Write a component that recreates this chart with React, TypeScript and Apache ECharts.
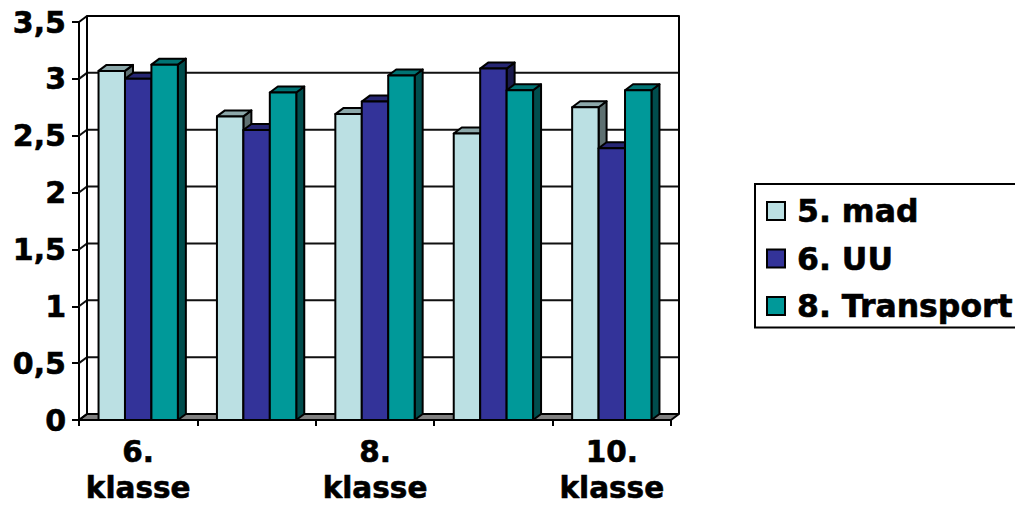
import React, { useEffect, useRef } from "react";
import * as echarts from "echarts";

const categories = ["6.\nklasse", "7.\nklasse", "8.\nklasse", "9.\nklasse", "10.\nklasse"];
const mad = [3.07, 2.67, 2.69, 2.52, 2.75];
const uu = [3.0, 2.55, 2.8, 3.09, 2.39];
const transport = [3.125, 2.88, 3.03, 2.9, 2.9];
const yTicks = [0, 0.5, 1, 1.5, 2, 2.5, 3, 3.5];

const seriesNames = ["5. mad", "6. UU", "8. Transport"];
const faceColors = ["#BBE0E3", "#333399", "#009999"];
const topColors = ["#8CA8AA", "#262673", "#007373"];
const sideColors = ["#5E7071", "#1A1A4D", "#004D4D"];

const FONT = '"DejaVu Sans", Verdana, sans-serif';
const DX = 8;
const DY = -6;
const LINE = { stroke: "#000", lineWidth: 2, lineJoin: "round" as const };

function wallItem(params: any, api: any) {
  const v = api.value(1);
  const band = api.size([1, 0])[0];
  const p = api.coord([0, v]);
  const left = p[0] - band / 2;
  const right = left + band * categories.length;
  const y = p[1];
  const zero = api.coord([0, 0])[1];
  const top = api.coord([0, yTicks[yTicks.length - 1]])[1];
  const children: any[] = [];
  if (v === 0) {
    children.push({
      type: "polygon",
      shape: { points: [[left, y], [left + DX, y + DY], [right + DX, y + DY], [right, y]] },
      style: { fill: "#808080", ...LINE },
    });
  }
  if (v === yTicks[yTicks.length - 1]) {
    children.push({
      type: "polyline",
      shape: { points: [[left, zero], [left + DX, zero + DY], [left + DX, top + DY], [right + DX, top + DY], [right + DX, zero + DY]] },
      style: { fill: "none", ...LINE },
    });
    children.push({
      type: "polyline",
      shape: { points: [[left + DX, top + DY], [left, top]] },
      style: { fill: "none", ...LINE },
    });
  }
  if (v !== 0 && v !== yTicks[yTicks.length - 1]) {
    children.push({
      type: "polyline",
      shape: { points: [[left, y], [left + DX, y + DY], [right + DX, y + DY]] },
      style: { fill: "none", stroke: "#111", lineWidth: 2 },
    });
  }
  return { type: "group", children };
}

function barItem(idx: number) {
  return (params: any, api: any) => {
    const band = api.size([1, 0])[0];
    const w = band * 0.2233;
    const c = api.coord([api.value(0), api.value(1)]);
    const base = api.coord([api.value(0), 0])[1];
    const x0 = c[0] - 1.5 * w + idx * w;
    const x1 = x0 + w;
    const y = c[1];
    return {
      type: "group",
      children: [
        {
          type: "polygon",
          shape: { points: [[x1, y], [x1 + DX, y + DY], [x1 + DX, base + DY], [x1, base]] },
          style: { fill: sideColors[idx], ...LINE },
        },
        {
          type: "polygon",
          shape: { points: [[x0, y], [x0 + DX, y + DY], [x1 + DX, y + DY], [x1, y]] },
          style: { fill: topColors[idx], ...LINE },
        },
        {
          type: "rect",
          shape: { x: x0, y, width: w, height: base - y },
          style: { fill: faceColors[idx], ...LINE },
        },
      ],
    };
  };
}

export default function App() {
  const ref = useRef<HTMLDivElement>(null);
  useEffect(() => {
    document.body.style.margin = "0";
    document.body.style.overflow = "hidden";
    const chart = echarts.init(ref.current!, undefined, { renderer: "svg" });
    const values = [mad, uu, transport];
    chart.setOption({
      animation: false,
      backgroundColor: "#fff",
      grid: { left: 79, right: 344, top: 22, bottom: 86, outerBoundsMode: "none" },
      xAxis: {
        type: "category",
        data: categories,
        axisLine: { show: true, lineStyle: { color: "#000", width: 2 } },
        axisTick: { show: true, interval: 0, alignWithLabel: false, length: 6, lineStyle: { color: "#000", width: 2 } },
        axisLabel: {
          interval: 1,
          margin: 14,
          color: "#000",
          fontFamily: FONT,
          fontWeight: "bold",
          fontSize: 29.5,
          lineHeight: 36,
          textBorderColor: "#000",
          textBorderWidth: 0.6,
        },
      },
      yAxis: {
        type: "value",
        min: 0,
        max: 3.5,
        interval: 0.5,
        splitLine: { show: false },
        axisLine: { show: true, lineStyle: { color: "#000", width: 2 } },
        axisTick: { show: true, length: 7, lineStyle: { color: "#000", width: 2 } },
        axisLabel: {
          margin: 13,
          padding: [9, 0, 0, 0],
          color: "#000",
          fontFamily: FONT,
          fontWeight: "bold",
          fontSize: 30,
          textBorderColor: "#000",
          textBorderWidth: 0.6,
          formatter: (v: number) => String(v).replace(".", ","),
        },
      },
      legend: {
        data: seriesNames,
        orient: "vertical",
        left: 755,
        top: 184,
        height: 400,
        padding: [9, 10, 3.5, 11],
        itemGap: 11.5,
        itemWidth: 18,
        itemHeight: 18,
        itemStyle: { borderColor: "#000", borderWidth: 2 },
        borderColor: "#000",
        borderWidth: 2,
        selectedMode: false,
        icon: "rect",
        textStyle: {
          color: "#000",
          fontFamily: FONT,
          fontWeight: "bold",
          fontSize: 31.5,
          lineHeight: 36,
          padding: [0, 0, 0, 7],
          textBorderColor: "#000",
          textBorderWidth: 0.6,
        },
      },
      series: [
        {
          type: "custom",
          name: "walls",
          renderItem: wallItem,
          data: yTicks.map((v) => [0, v]),
          encode: { x: 0, y: 1 },
          silent: true,
          z: 1,
        },
        ...seriesNames.map((name, idx) => ({
          type: "custom",
          name,
          renderItem: barItem(idx),
          data: values[idx].map((v, i) => [i, v]),
          encode: { x: 0, y: 1 },
          itemStyle: { color: faceColors[idx] },
          silent: true,
          z: 2,
        })),
      ],
    });
    return () => chart.dispose();
  }, []);
  return <div ref={ref} style={{ width: 1015, height: 506 }} />;
}
